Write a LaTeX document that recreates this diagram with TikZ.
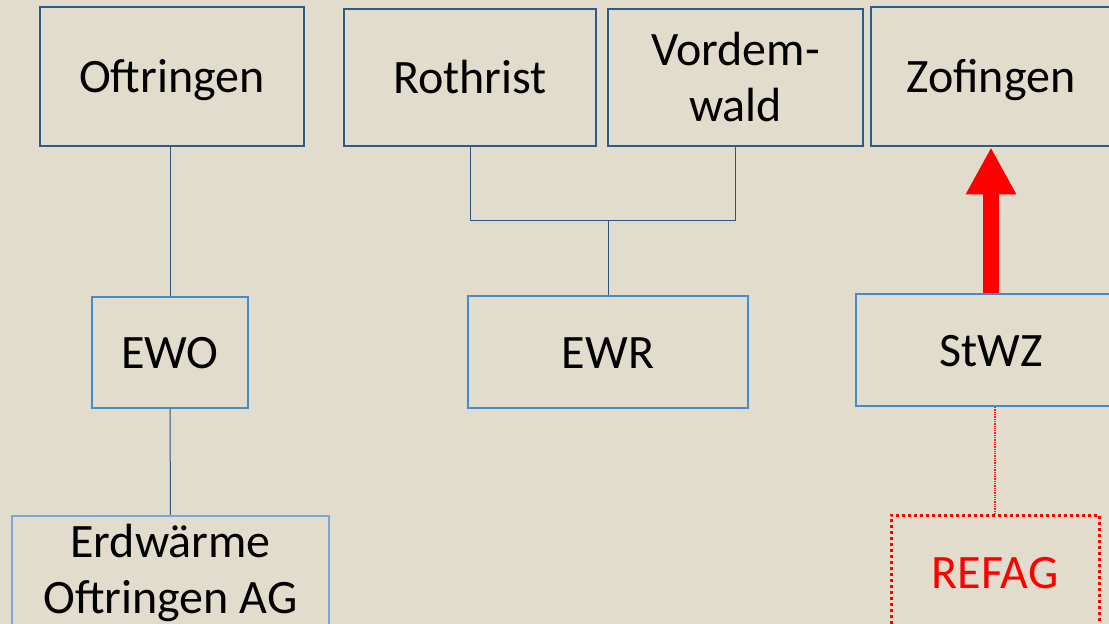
\documentclass[tikz,border=0pt]{standalone}
\usepackage{fontspec}
\setmainfont{Carlito}
\usetikzlibrary{arrows.meta}
\definecolor{bg}{RGB}{226,220,204}
\definecolor{darkb}{RGB}{46,90,136}
\definecolor{midb}{RGB}{70,138,206}
\definecolor{lightb}{RGB}{122,166,216}
\definecolor{lineb}{RGB}{46,84,130}
\tikzset{
  txt/.style={inner sep=0pt, align=center, font=\fontsize{48}{56}\selectfont},
  one/.style={text height=40pt, text depth=8pt},
  topbox/.style={txt, draw=darkb, line width=2.6pt},
  midbox/.style={txt, draw=midb, line width=2.3pt},
  lowbox/.style={txt, draw=lightb, line width=2.2pt},
  redbox/.style={txt, draw=red, line width=3pt, dash pattern=on 3pt off 3pt, text=red},
  conn/.style={draw=lineb, line width=1pt},
  redconn/.style={draw=red!85!bg, line width=1.3pt, dash pattern=on 1.3pt off 1pt},
  bigarrow/.style={draw=red, line width=16pt, -{Triangle[length=47pt,width=47pt]}, fill=red}
}
\begin{document}
\begin{tikzpicture}[x=1pt,y=-1pt]
\fill[bg] (0,0) rectangle (1109,624);
\useasboundingbox (0,0) rectangle (1109,624);
\clip (0,0) rectangle (1109,624);
\node[topbox, one, minimum width=264pt, minimum height=139pt] (Oft) at (172,76.5) {Oftringen};
\node[topbox, one, minimum width=252pt, minimum height=137pt] (Roth) at (470,77.5) {Rothrist};
\node[topbox, minimum width=255pt, minimum height=137pt] (Vord) at (735.5,77.5) {Vordem-\\wald};
\node[topbox, one, minimum width=240pt, minimum height=139pt] (Zof) at (991,76.5) {Zofingen};
\node[midbox, one, minimum width=156pt, minimum height=111pt] (EWO) at (170,352.5) {EWO};
\node[midbox, one, minimum width=280pt, minimum height=112pt] (EWR) at (608,352) {EWR};
\node[midbox, one, minimum width=270pt, minimum height=112pt] (StWZ) at (991,350) {StWZ};
\node[lowbox, minimum width=317pt, minimum height=114pt] (Erd) at (170.5,573) {Erdwärme\\Oftringen AG};
\node[redbox, one, minimum width=208pt, minimum height=114pt] (REFAG) at (995,572) {REFAG};
\coordinate (J) at (608,220);
\draw[conn] (EWO.north |- Oft.south) -- (EWO.north);
\draw[conn] (EWO.south) -- (Erd.north);
\draw[conn] (Roth.south) |- (J);
\draw[conn] (Vord.south) |- (J);
\draw[conn] (J) -- (EWR.north);
\draw[bigarrow] (StWZ.north) -- (Zof.south);
\draw[redconn] (REFAG.north |- StWZ.south) -- (REFAG.north);
\end{tikzpicture}
\end{document}
